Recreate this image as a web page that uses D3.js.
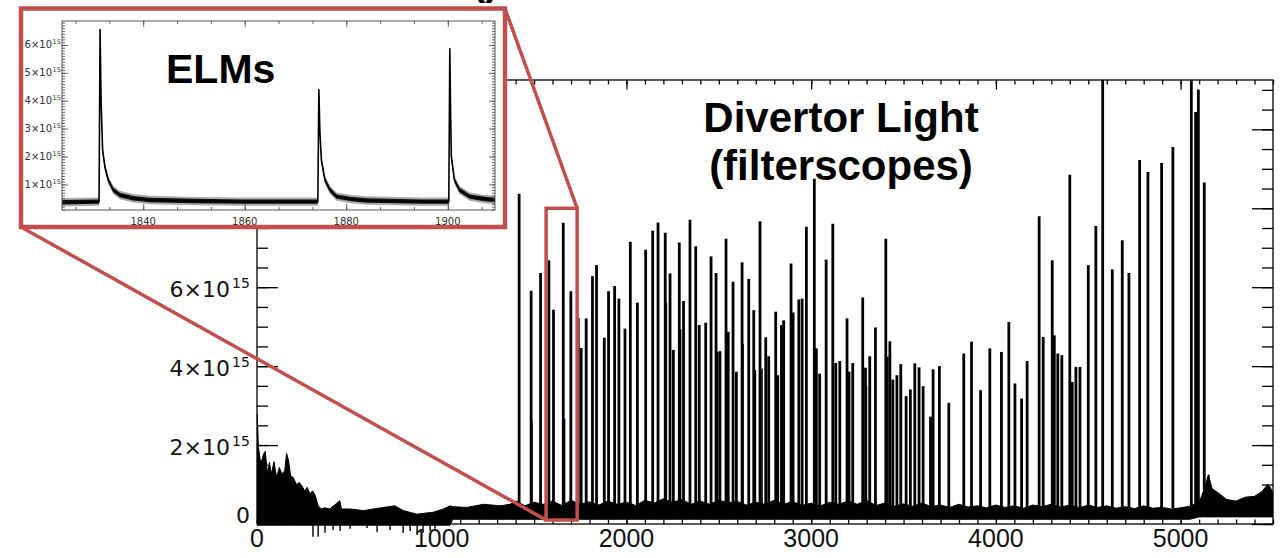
<!DOCTYPE html>
<html>
<head>
<meta charset="utf-8">
<script src="https://cdn.jsdelivr.net/npm/d3@7"></script>
<style>
  body { margin: 0; background: #fff; }
  svg { display: block; }
</style>
</head>
<body>
<div id="container"></div>
<script>
// ---- main trace: dense noise band (values in 1e15) ----
const bandTimes = [0, 1, 8, 18, 26, 35, 45, 56, 67, 78, 92, 106, 121, 135, 150, 160, 171, 182, 196, 214,
  229, 243, 258, 272, 286, 301, 315, 331, 349, 367, 394, 448, 457, 503, 576, 684, 747, 792, 865, 955,
  1009, 1045, 1060, 1136, 1226, 1316, 1370, 1406, 1450, 1500, 1550, 1600, 1650, 1700, 1750, 1800, 1850,
  1900, 1950, 2000, 2050, 2100, 2150, 2200, 2250, 2300, 2350, 2400, 2450, 2500, 2550, 2600, 2650, 2700,
  2750, 2800, 2850, 2900, 2950, 3000, 3050, 3100, 3150, 3200, 3250, 3300, 3350, 3400, 3450, 3500, 3550,
  3600, 3650, 3700, 3750, 3800, 3850, 3900, 3950, 4000, 4050, 4100, 4150, 4200, 4250, 4300, 4350, 4400,
  4450, 4500, 4550, 4600, 4650, 4700, 4750, 4800, 4850, 4900, 4950, 5000, 5050, 5100, 5130, 5150, 5170,
  5200, 5250, 5300, 5350, 5400, 5440, 5470, 5485, 5500];
const bandUpper = [1.2, 2.78, 1.94, 1.6, 1.6, 1.77, 1.84, 1.27, 1.56, 1.27, 1.58, 1.18, 1.43, 1.27, 1.35, 1.79, 1.6, 1.22, 1.18, 1.0,
  1.05, 0.97, 0.84, 0.93, 0.76, 0.84, 0.72, 0.46, 0.38, 0.41, 0.38, 0.59, 0.38, 0.38, 0.34, 0.42, 0.46, 0.34, 0.25, 0.3,
  0.38, 0.46, 0.44, 0.42, 0.5, 0.46, 0.5, 0.58, 0.46, 0.55, 0.5, 0.58, 0.47, 0.6, 0.5, 0.56, 0.48,
  0.58, 0.5, 0.55, 0.47, 0.6, 0.53, 0.64, 0.55, 0.62, 0.5, 0.58, 0.5, 0.6, 0.54, 0.57, 0.48, 0.55,
  0.5, 0.6, 0.5, 0.57, 0.47, 0.53, 0.46, 0.55, 0.5, 0.58, 0.5, 0.6, 0.47, 0.53, 0.45, 0.51, 0.45,
  0.53, 0.44, 0.48, 0.42, 0.5, 0.43, 0.46, 0.41, 0.48, 0.42, 0.46, 0.4, 0.48, 0.44, 0.5, 0.43, 0.48,
  0.41, 0.48, 0.42, 0.46, 0.4, 0.44, 0.39, 0.46, 0.4, 0.42, 0.38, 0.41, 0.45, 0.55, 0.9, 1.25, 0.9,
  0.8, 0.62, 0.58, 0.68, 0.7, 0.82, 1.0, 0.93, 0.78];
const bandLower = bandTimes.map(t => t <= 1045 ? -0.03 : (t < 5100 ? 0.12 : 0.18));

// downward excursions below the axis (early part of the shot)
const dipTimes = [303, 331, 368, 412, 450, 504, 596, 650, 720, 791, 829, 867, 899, 937, 964];
const dipValues = [-0.32, -0.32, -0.22, -0.15, -0.18, -0.12, -0.1, -0.2, -0.15, -0.22, -0.18, -0.28, -0.22, -0.18, -0.12];

// ---- ELM spikes: time and peak (1e15) ----
const elmTimes = [1419, 1484, 1535, 1580, 1605, 1658, 1699, 1739, 1755, 1782, 1816, 1838, 1880, 1903, 1936, 1959,
  1992, 2021, 2059, 2104, 2142, 2171, 2210, 2236, 2254, 2286, 2309, 2344, 2375, 2394, 2429, 2458, 2485, 2506,
  2539, 2551, 2577, 2595, 2626, 2662, 2689, 2723, 2754, 2770, 2808, 2819, 2839, 2851, 2891, 2902, 2933, 2951,
  2974, 3017, 3028, 3046, 3081, 3117, 3133, 3155, 3194, 3205, 3225, 3279, 3294, 3317, 3348, 3404, 3426, 3442,
  3464, 3485, 3514, 3537, 3561, 3584, 3606, 3646, 3660, 3694, 3745, 3826, 3868, 3917, 3967, 4030, 4070, 4103,
  4139, 4169, 4234, 4256, 4305, 4316, 4335, 4357, 4400, 4413, 4433, 4455, 4500, 4541, 4578, 4630, 4684, 4720,
  4778, 4823, 4897, 4958, 5058, 5081, 5096, 5128];
const elmPeaks = [8.37, 5.91, 6.36, 6.68, 5.43, 7.63, 5.9, 5.22, 4.46, 5.21, 6.28, 6.56, 4.72, 5.9, 6.03, 5.71,
  4.95, 7.15, 5.61, 6.95, 7.43, 7.64, 7.38, 6.35, 4.41, 7.13, 5.65, 7.71, 7.04, 5.04, 5.1, 6.78, 6.36, 4.38,
  7.23, 4.87, 6.14, 3.86, 6.63, 6.21, 5.42, 7.67, 4.73, 4.25, 5.38, 3.77, 5.04, 5.16, 6.6, 5.36, 5.69, 5.71,
  7.53, 8.75, 4.45, 3.81, 6.7, 7.61, 4.08, 4.13, 5.21, 3.86, 4.08, 5.74, 3.96, 4.25, 4.98, 7.23, 4.63, 3.66,
  3.77, 4.05, 3.24, 3.41, 4.07, 3.97, 3.49, 2.72, 3.92, 4.0, 3.07, 4.32, 4.62, 3.39, 4.45, 4.36, 5.12, 3.56,
  3.18, 4.13, 7.8, 4.74, 6.68, 4.78, 4.32, 4.28, 8.85, 3.6, 3.98, 3.98, 6.56, 7.55, 11.5, 6.45, 7.19, 6.36,
  9.22, 8.92, 9.15, 9.55, 11.5, 10.44, 11.01, 8.65];

// thinner secondary traces beside some ELMs
const shoulderTimes = [1488, 1665, 2106, 2216, 2293, 2494, 2631, 2698, 2734, 3299, 3415, 5153];
const shoulderPeaks = [2.59, 2.67, 5.97, 5.61, 4.93, 4.36, 4.57, 3.9, 3.94, 3.49, 4.24, 1.24];

const xTicks = [0, 1000, 2000, 3000, 4000, 5000];
const yTicks = [0, 2, 4, 6, 8, 10];
const zoomTimes = [1565, 1733];
const zoomValues = [0.1, 8.0];

// ---- inset trace (close-up of three ELMs) ----
const insetTimes = [1824, 1831.3, 1831.5, 1831.7, 1832.0, 1832.45, 1833.1, 1834.1, 1835.4, 1838.0, 1841.3, 1850, 1860, 1870,
  1874.4, 1874.6, 1874.8, 1875.1, 1875.8, 1876.8, 1878.1, 1881, 1884, 1895,
  1900.2, 1900.4, 1900.55, 1900.7, 1901.3, 1902.3, 1904.3, 1906.9, 1909.3];
const insetValues = [0.36, 0.38, 6.57, 4.0, 2.23, 1.63, 1.16, 0.8, 0.62, 0.5, 0.44, 0.4, 0.38, 0.38,
  0.38, 4.41, 2.9, 1.87, 1.16, 0.8, 0.56, 0.47, 0.42, 0.38,
  0.38, 5.88, 3.6, 2.0, 1.16, 0.8, 0.56, 0.48, 0.44];
const insetXTicks = [1840, 1860, 1880, 1900];
const insetYTicks = [1, 2, 3, 4, 5, 6];

const W = 1281, H = 558;
const RED = "#c0504d";
const plot = { left: 257, right: 1273, top: 80, bottom: 524 };

const svg = d3.select("#container").append("svg")
  .attr("width", W)
  .attr("height", H);

const x = d3.scaleLinear().domain([0, 5500]).range([plot.left, plot.right]);
const y = d3.scaleLinear().domain([0, 11.25]).range([plot.bottom, plot.top]);

svg.append("clipPath").attr("id", "clip")
  .append("rect")
  .attr("x", plot.left).attr("y", plot.top)
  .attr("width", plot.right - plot.left).attr("height", 545 - plot.top);

const data = svg.append("g").attr("clip-path", "url(#clip)");

const bandArea = d3.area()
  .x((d, i) => x(bandTimes[i]))
  .y0((d, i) => y(bandLower[i]))
  .y1((d, i) => y(bandUpper[i]));

data.append("path")
  .datum(bandTimes)
  .attr("fill", "#000")
  .attr("stroke", "#000")
  .attr("stroke-width", 1)
  .attr("d", bandArea);

data.selectAll("line.dip")
  .data(dipTimes)
  .join("line")
  .attr("class", "dip")
  .attr("x1", d => x(d)).attr("x2", d => x(d))
  .attr("y1", y(0.1))
  .attr("y2", (d, i) => y(dipValues[i]))
  .attr("stroke", "#000")
  .attr("stroke-width", 1.4);

data.selectAll("line.shoulder")
  .data(shoulderTimes)
  .join("line")
  .attr("class", "shoulder")
  .attr("x1", d => x(d)).attr("x2", d => x(d))
  .attr("y1", y(0.4))
  .attr("y2", (d, i) => y(shoulderPeaks[i]))
  .attr("stroke", "#000")
  .attr("stroke-width", 1.6);

data.selectAll("line.elm")
  .data(elmTimes)
  .join("line")
  .attr("class", "elm")
  .attr("x1", d => x(d)).attr("x2", d => x(d))
  .attr("y1", y(0.4))
  .attr("y2", (d, i) => y(elmPeaks[i]))
  .attr("stroke", "#000")
  .attr("stroke-width", 2.8);

// ---- axes (ticks point inward on all four sides) ----
function ticksOnly(axis) {
  return g => {
    g.call(axis.tickFormat("").tickSizeOuter(0));
    g.select(".domain").remove();
    g.selectAll("line").attr("stroke", "#000").attr("stroke-width", 1.3);
  };
}
const xMinor = d3.range(0, 5501, 100);
const yMinor = d3.range(0, 11.01, 0.5);

svg.append("g").attr("transform", `translate(0,${plot.bottom})`)
  .call(ticksOnly(d3.axisBottom(x).tickValues(xMinor).tickSizeInner(-4.5)));
svg.append("g").attr("transform", `translate(0,${plot.bottom})`)
  .call(ticksOnly(d3.axisBottom(x).tickValues(xTicks).tickSizeInner(-9.5)));
svg.append("g").attr("transform", `translate(0,${plot.top})`)
  .call(ticksOnly(d3.axisTop(x).tickValues(xMinor).tickSizeInner(-4.5)));
svg.append("g").attr("transform", `translate(0,${plot.top})`)
  .call(ticksOnly(d3.axisTop(x).tickValues(xTicks).tickSizeInner(-9.5)));
svg.append("g").attr("transform", `translate(${plot.left},0)`)
  .call(ticksOnly(d3.axisLeft(y).tickValues(yMinor).tickSizeInner(-11)));
svg.append("g").attr("transform", `translate(${plot.left},0)`)
  .call(ticksOnly(d3.axisLeft(y).tickValues(yTicks).tickSizeInner(-21)));
svg.append("g").attr("transform", `translate(${plot.right},0)`)
  .call(ticksOnly(d3.axisRight(y).tickValues(yMinor).tickSizeInner(-11)));
svg.append("g").attr("transform", `translate(${plot.right},0)`)
  .call(ticksOnly(d3.axisRight(y).tickValues(yTicks).tickSizeInner(-21)));

svg.append("rect")
  .attr("x", plot.left).attr("y", plot.top)
  .attr("width", plot.right - plot.left).attr("height", plot.bottom - plot.top)
  .attr("fill", "none").attr("stroke", "#000").attr("stroke-width", 1.3);

svg.append("g").selectAll("text")
  .data(xTicks)
  .join("text")
  .attr("x", d => x(d))
  .attr("y", 547)
  .attr("text-anchor", "middle")
  .attr("font-family", "Liberation Sans, Arial, sans-serif")
  .attr("font-size", 25)
  .attr("fill", "#111")
  .text(d => d);

const yLab = svg.append("g")
  .attr("font-family", "DejaVu Sans, sans-serif")
  .attr("fill", "#111");
yLab.selectAll("text.main")
  .data(yTicks)
  .join("text")
  .attr("class", "main")
  .attr("x", d => d === 0 ? 250 : 230)
  .attr("y", d => d === 0 ? y(d) - 1 : y(d) + 10)
  .attr("text-anchor", "end")
  .attr("font-size", 22)
  .text(d => d === 0 ? "0" : `${d}×10`);
yLab.selectAll("text.sup")
  .data(yTicks.filter(d => d !== 0))
  .join("text")
  .attr("class", "sup")
  .attr("x", 232)
  .attr("y", d => y(d) + 1)
  .attr("font-size", 14)
  .text("15");

svg.append("g")
  .attr("font-family", "Liberation Sans, Arial, sans-serif")
  .attr("font-weight", "bold")
  .attr("font-size", 42)
  .attr("text-anchor", "middle")
  .selectAll("text")
  .data(["Divertor Light", "(filterscopes)"])
  .join("text")
  .attr("x", 841)
  .attr("y", (d, i) => 132 + i * 48)
  .text(d => d);

// fragment of a heading cut off by the top edge
svg.append("text")
  .attr("x", 472)
  .attr("y", -5)
  .attr("font-family", "Liberation Sans, Arial, sans-serif")
  .attr("font-weight", "bold")
  .attr("font-size", 40)
  .text("()");

// ---- zoom box and connectors ----
const zx0 = x(zoomTimes[0]), zx1 = x(zoomTimes[1]);
const zy0 = y(zoomValues[1]), zy1 = y(zoomValues[0]);
const box = { left: 21, top: 8.5, right: 505, bottom: 227 };

svg.append("line")
  .attr("x1", box.right).attr("y1", box.top)
  .attr("x2", zx1).attr("y2", zy0)
  .attr("stroke", RED).attr("stroke-width", 3.5);
svg.append("line")
  .attr("x1", box.left).attr("y1", box.bottom)
  .attr("x2", zx0).attr("y2", zy1)
  .attr("stroke", RED).attr("stroke-width", 3.5);
svg.append("rect")
  .attr("x", zx0).attr("y", zy0)
  .attr("width", zx1 - zx0).attr("height", zy1 - zy0)
  .attr("fill", "none").attr("stroke", RED).attr("stroke-width", 3.5);

// ---- inset ----
svg.append("rect")
  .attr("x", box.left).attr("y", box.top)
  .attr("width", box.right - box.left).attr("height", box.bottom - box.top)
  .attr("fill", "#fff").attr("stroke", RED).attr("stroke-width", 4.5);

const inset = { left: 62, right: 495, top: 21, bottom: 210 };
const ix = d3.scaleLinear().domain([1824, 1909.3]).range([inset.left, inset.right]);
const iy = d3.scaleLinear().domain([0.08, 6.86]).range([inset.bottom, inset.top]);
const ig = svg.append("g");

ig.append("clipPath").attr("id", "iclip")
  .append("rect")
  .attr("x", inset.left).attr("y", inset.top)
  .attr("width", inset.right - inset.left).attr("height", inset.bottom - inset.top);

const insetLine = d3.line()
  .x((d, i) => ix(insetTimes[i]))
  .y((d, i) => iy(insetValues[i]));
const insetBand = (w) => d3.area()
  .x((d, i) => ix(insetTimes[i]))
  .y0((d, i) => iy(insetValues[i] - w))
  .y1((d, i) => iy(insetValues[i] + w));

const idata = ig.append("g").attr("clip-path", "url(#iclip)");
idata.append("path").datum(insetTimes)
  .attr("fill", "#aaa").attr("d", insetBand(0.15));
idata.append("path").datum(insetTimes)
  .attr("fill", "#111").attr("d", insetBand(0.08));
idata.append("path").datum(insetTimes)
  .attr("fill", "none").attr("stroke", "#000").attr("stroke-width", 1.6)
  .attr("d", insetLine);

function insetTicks(axis) {
  return g => {
    g.call(axis.tickFormat("").tickSizeOuter(0));
    g.select(".domain").remove();
    g.selectAll("line").attr("stroke", "#444").attr("stroke-width", 0.8);
  };
}
const ixMinor = d3.range(1820, 1910, 20 / 3).filter(t => t >= 1824);
const iyMinor = d3.range(1, 69).map(k => k / 10);

ig.append("g").attr("transform", `translate(0,${inset.bottom})`)
  .call(insetTicks(d3.axisBottom(ix).tickValues(ixMinor).tickSizeInner(-3)));
ig.append("g").attr("transform", `translate(0,${inset.bottom})`)
  .call(insetTicks(d3.axisBottom(ix).tickValues(insetXTicks).tickSizeInner(-6)));
ig.append("g").attr("transform", `translate(0,${inset.top})`)
  .call(insetTicks(d3.axisTop(ix).tickValues(ixMinor).tickSizeInner(-3)));
ig.append("g").attr("transform", `translate(0,${inset.top})`)
  .call(insetTicks(d3.axisTop(ix).tickValues(insetXTicks).tickSizeInner(-6)));
ig.append("g").attr("transform", `translate(${inset.left},0)`)
  .call(insetTicks(d3.axisLeft(iy).tickValues(iyMinor).tickSizeInner(-3)));
ig.append("g").attr("transform", `translate(${inset.left},0)`)
  .call(insetTicks(d3.axisLeft(iy).tickValues(insetYTicks).tickSizeInner(-6)));
ig.append("g").attr("transform", `translate(${inset.right},0)`)
  .call(insetTicks(d3.axisRight(iy).tickValues(iyMinor).tickSizeInner(-3)));
ig.append("g").attr("transform", `translate(${inset.right},0)`)
  .call(insetTicks(d3.axisRight(iy).tickValues(insetYTicks).tickSizeInner(-6)));

ig.append("rect")
  .attr("x", inset.left).attr("y", inset.top)
  .attr("width", inset.right - inset.left).attr("height", inset.bottom - inset.top)
  .attr("fill", "none").attr("stroke", "#444").attr("stroke-width", 0.9);

ig.append("g").selectAll("text")
  .data(insetXTicks)
  .join("text")
  .attr("x", d => ix(d))
  .attr("y", 225)
  .attr("text-anchor", "middle")
  .attr("font-family", "DejaVu Sans, sans-serif")
  .attr("font-size", 10)
  .attr("fill", "#333")
  .text(d => d);

const iyl = ig.append("g")
  .attr("font-family", "DejaVu Sans, sans-serif")
  .attr("fill", "#333");
iyl.selectAll("text.main")
  .data(insetYTicks)
  .join("text")
  .attr("class", "main")
  .attr("x", 52)
  .attr("y", d => iy(d) + 3.5)
  .attr("text-anchor", "end")
  .attr("font-size", 10)
  .text(d => `${d}×10`);
iyl.selectAll("text.sup")
  .data(insetYTicks)
  .join("text")
  .attr("class", "sup")
  .attr("x", 52.5)
  .attr("y", d => iy(d) - 0.5)
  .attr("font-size", 6.5)
  .text("15");

ig.append("text")
  .attr("x", 166)
  .attr("y", 83)
  .attr("font-family", "Liberation Sans, Arial, sans-serif")
  .attr("font-weight", "bold")
  .attr("font-size", 41)
  .text("ELMs");
</script>
</body>
</html>
